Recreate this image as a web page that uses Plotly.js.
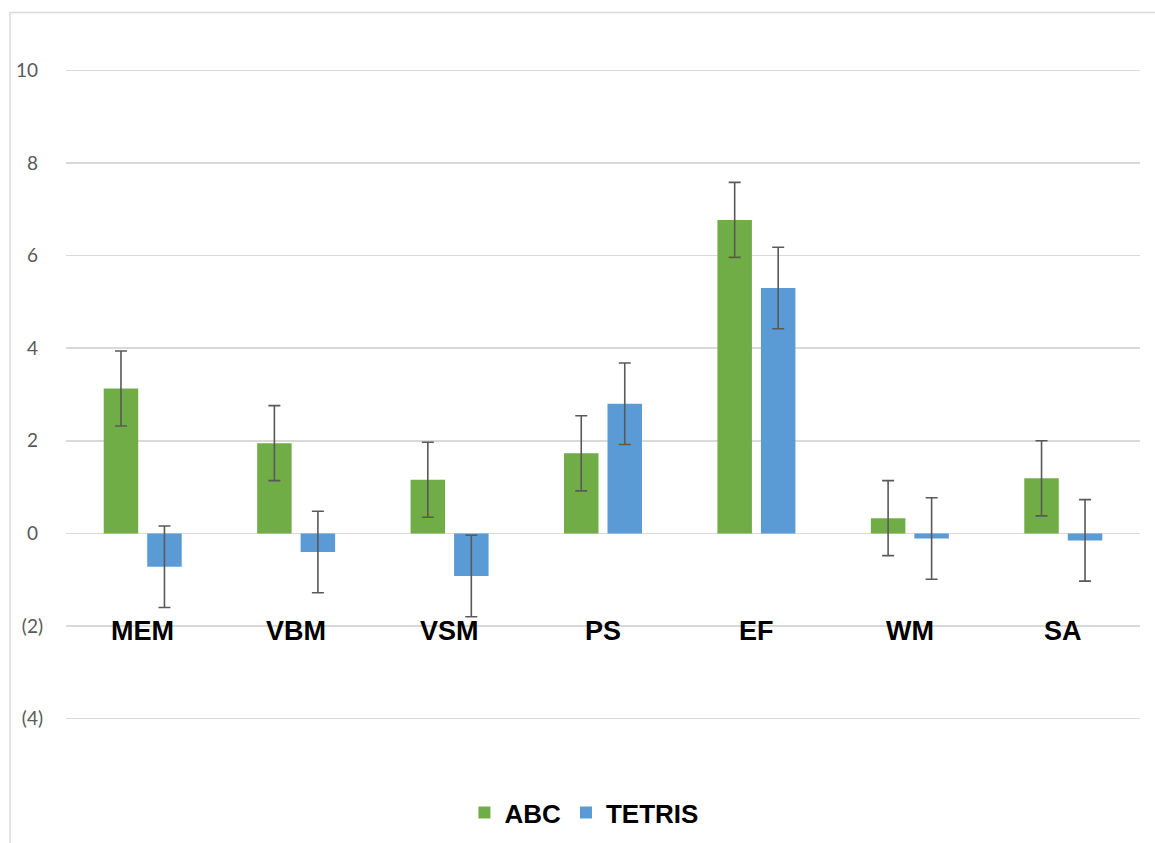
<!DOCTYPE html>
<html>
<head>
<meta charset="utf-8">
<script src="https://cdn.plot.ly/plotly-3.0.1.min.js"></script>
<style>html,body{margin:0;padding:0;background:#fff;}#chart{width:1155px;height:843px;}</style>
</head>
<body>
<div id="chart"></div>
<script>
const categories = ["MEM", "VBM", "VSM", "PS", "EF", "WM", "SA"];
const abcValues = [3.13, 1.95, 1.16, 1.73, 6.77, 0.33, 1.19];
const abcErrors = [0.81, 0.81, 0.81, 0.81, 0.81, 0.81, 0.81];
const tetrisValues = [-0.72, -0.40, -0.92, 2.80, 5.30, -0.11, -0.15];
const tetrisErrors = [0.88, 0.88, 0.88, 0.88, 0.88, 0.88, 0.88];
const tickValues = [-4, -2, 0, 2, 4, 6, 8, 10];
const tickLabels = ["(4)", "(2)", "0\u00a0", "2\u00a0", "4\u00a0", "6\u00a0", "8\u00a0", "10\u00a0"];

const errStyle = {type: "data", visible: true, color: "#595959", thickness: 1.6, width: 6};

const traces = [
  {type: "bar", name: "ABC", x: categories, y: abcValues,
   marker: {color: "#70AD47"},
   error_y: Object.assign({array: abcErrors}, errStyle)},
  {type: "bar", name: "TETRIS", x: categories, y: tetrisValues,
   marker: {color: "#5B9BD5"},
   error_y: Object.assign({array: tetrisErrors}, errStyle)}
];

const annotations = categories.map(c => ({
  x: c, y: -2, xref: "x", yref: "y", text: c, showarrow: false,
  yanchor: "middle", yshift: -5,
  font: {family: "Liberation Sans, Arial, sans-serif", size: 27, color: "#000000", weight: "bold"}
}));

const layout = {
  width: 1155, height: 843,
  margin: {l: 66, r: 15, t: 68, b: 122},
  paper_bgcolor: "#ffffff", plot_bgcolor: "#ffffff",
  barmode: "group", bargap: 0.433, bargroupgap: 0.207,
  showlegend: true,
  legend: {orientation: "h", x: 0.506, xanchor: "center", xref: "container",
    y: 0.036, yanchor: "middle", yref: "container",
    font: {family: "Liberation Sans, Arial, sans-serif", size: 26, color: "#000000", weight: "bold"},
    itemwidth: 30, traceorder: "normal"},
  xaxis: {showticklabels: false, showgrid: false, zeroline: false, showline: false, ticks: ""},
  yaxis: {range: [-4.05, 10.05], tickvals: tickValues, ticktext: tickLabels,
    showgrid: true, gridcolor: "#d9d9d9", gridwidth: 1.5, zeroline: false, showline: false,
    ticks: "", ticklabelstandoff: 22,
    tickfont: {family: "Lato, Open Sans, sans-serif", size: 19, color: "#595959"}},
  annotations: annotations,
  shapes: [{type: "rect", xref: "paper", yref: "paper", x0: -0.0521, x1: 1.03, y0: -0.22, y1: 1.085,
    line: {color: "#d9d9d9", width: 1.5}, fillcolor: "rgba(0,0,0,0)", layer: "below"}]
};

Plotly.newPlot("chart", traces, layout, {displayModeBar: false, staticPlot: true});
</script>
</body>
</html>
